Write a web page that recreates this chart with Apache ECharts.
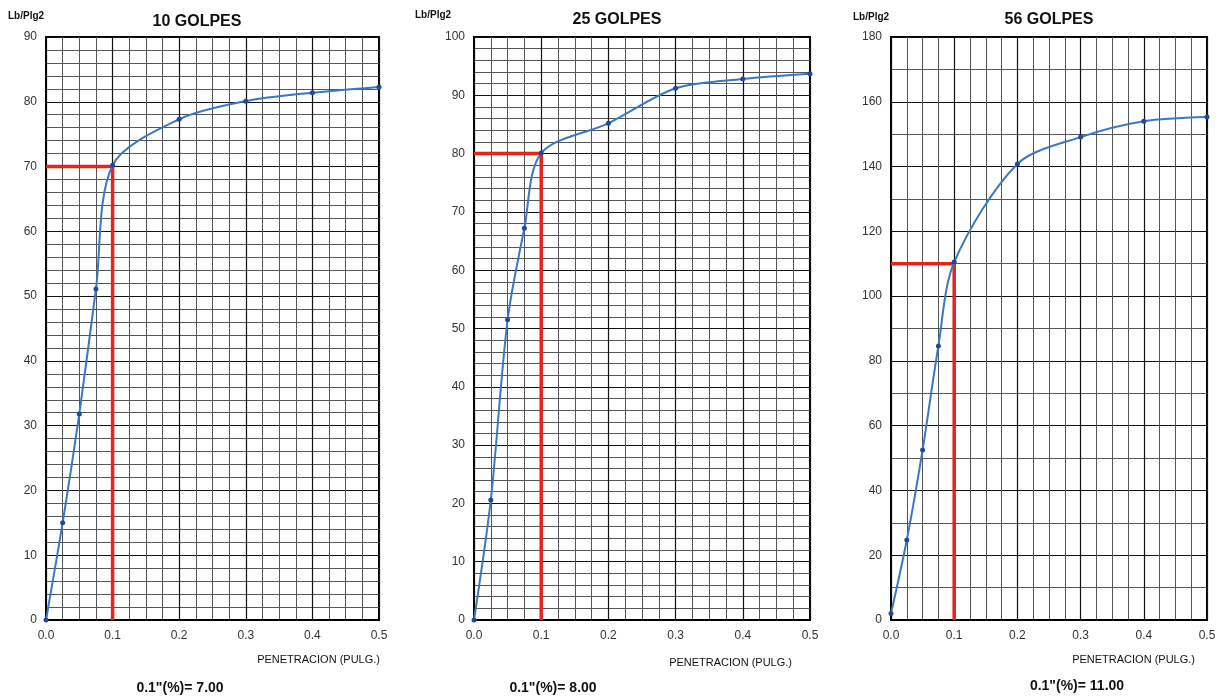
<!DOCTYPE html>
<html>
<head>
<meta charset="utf-8">
<script src="https://cdn.jsdelivr.net/npm/echarts@6/dist/echarts.min.js"></script>
<style>html,body{margin:0;padding:0;background:#fff;}#c{width:1227px;height:700px;}</style>
</head>
<body>
<div id="c"></div>
<script>
// Data
const penetracion = [0, 0.025, 0.05, 0.075, 0.1, 0.2, 0.3, 0.4, 0.5];
const carga10 = [0, 15.0, 31.8, 51.1, 70.2, 77.3, 80.1, 81.4, 82.3];
const carga25 = [0, 20.6, 51.5, 67.2, 80.1, 85.2, 91.2, 92.8, 93.7];
const carga56 = [2, 24.7, 52.5, 84.6, 110.5, 140.8, 149.1, 154.0, 155.3];
const titles = ['10 GOLPES', '25 GOLPES', '56 GOLPES'];
const yMax = [90, 100, 180];
const yStep = [10, 10, 20];
const yMinorSplit = [5, 5, 2];
const refPen = 0.1;
const refLoad = [70, 80, 110];
const cbrText = ['0.1"(%)= 7.00', '0.1"(%)= 8.00', '0.1"(%)= 11.00'];
const yUnit = 'Lb/Plg2';
const xName = 'PENETRACION (PULG.)';

const series = [carga10, carga25, carga56];
const grids = [
  {left: 46, top: 37, width: 333, height: 583},
  {left: 474, top: 37, width: 336, height: 583},
  {left: 891, top: 37, width: 316, height: 583}
];
const font = 'Liberation Sans, Arial, sans-serif';

const option = {
  backgroundColor: '#fff',
  animation: false,
  grid: grids.map(g => Object.assign({show: true, borderColor: '#000', borderWidth: 2, backgroundColor: 'transparent'}, g)),
  xAxis: grids.map((g, i) => ({
    type: 'value', gridIndex: i, min: 0, max: 0.5, interval: 0.1,
    axisLine: {show: true, onZero: false, lineStyle: {color: '#000', width: 2}},
    axisTick: {show: false},
    axisLabel: {color: '#333', fontSize: 12, fontFamily: font, margin: 10, formatter: v => v.toFixed(1)},
    splitLine: {show: true, lineStyle: {color: '#111', width: 1.2}},
    minorTick: {show: false, splitNumber: 4},
    minorSplitLine: {show: true, lineStyle: {color: '#555', width: 1}}
  })),
  yAxis: grids.map((g, i) => ({
    type: 'value', gridIndex: i, min: 0, max: yMax[i], interval: yStep[i],
    axisLine: {show: true, lineStyle: {color: '#000', width: 2}},
    axisTick: {show: false},
    axisLabel: {color: '#333', fontSize: 12, fontFamily: font, margin: 9},
    splitLine: {show: true, lineStyle: {color: '#111', width: 1.2}},
    minorTick: {show: false, splitNumber: yMinorSplit[i]},
    minorSplitLine: {show: true, lineStyle: {color: '#555', width: 1}}
  })),
  series: [],
  graphic: []
};

series.forEach((vals, i) => {
  option.series.push({
    type: 'line', xAxisIndex: i, yAxisIndex: i, z: 3,
    data: [[0, refLoad[i]], [refPen, refLoad[i]], [refPen, 0]],
    symbol: 'none', lineStyle: {color: '#e8231c', width: 3.5}
  });
  option.series.push({
    type: 'line', xAxisIndex: i, yAxisIndex: i, z: 4,
    data: penetracion.map((p, k) => [p, vals[k]]),
    smooth: 0.3,
    symbol: 'circle', symbolSize: 5,
    itemStyle: {color: '#1f4a9a'},
    lineStyle: {color: '#3a78c0', width: 2}
  });
});

const txt = (x, y, text, size, bold, align) => ({
  type: 'text', x: x, y: y,
  style: {text: text, fontSize: size, fontWeight: bold ? 'bold' : 'normal', fontFamily: font, fill: '#111', textAlign: align || 'left', textVerticalAlign: 'middle'}
});
option.graphic = [
  txt(8, 16, yUnit, 10, true), txt(415, 15, yUnit, 10, true), txt(853, 17, yUnit, 10, true),
  txt(197, 22, titles[0], 16, true, 'center'), txt(617, 20, titles[1], 16, true, 'center'), txt(1049, 20, titles[2], 16, true, 'center'),
  txt(380, 660, xName, 11, false, 'right'), txt(792, 663, xName, 11, false, 'right'), txt(1195, 660, xName, 11, false, 'right'),
  txt(180, 688, cbrText[0], 14, true, 'center'), txt(553, 688, cbrText[1], 14, true, 'center'), txt(1077, 686, cbrText[2], 14, true, 'center')
];

const chart = echarts.init(document.getElementById('c'), null, {renderer: 'canvas'});
chart.setOption(option);
</script>
</body>
</html>
